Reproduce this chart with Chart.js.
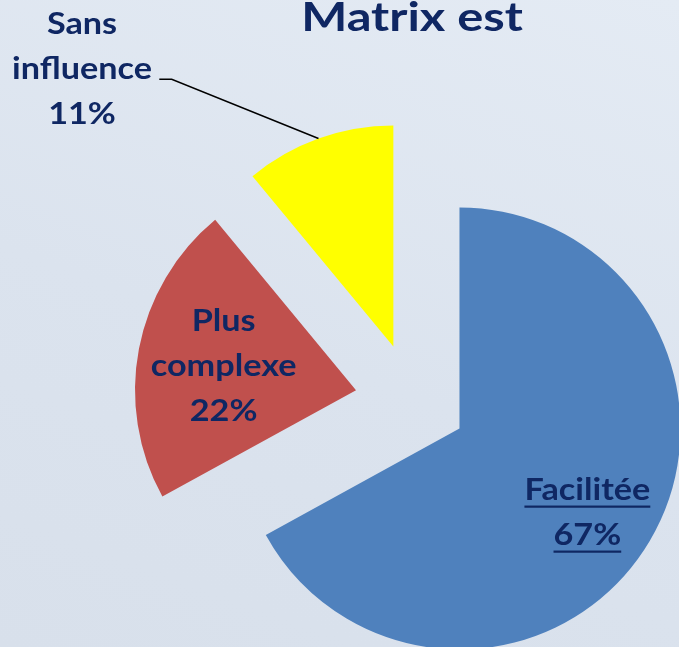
<!DOCTYPE html>
<html>
<head>
<meta charset="utf-8">
<title>Matrix est</title>
<script src="https://cdn.jsdelivr.net/npm/chart.js@4.4.1/dist/chart.umd.min.js"></script>
<style>
  html, body { margin: 0; padding: 0; }
  body {
    width: 679px;
    height: 647px;
    overflow: hidden;
    background: linear-gradient(200deg, #e4ebf4 0%, #dbe3ee 55%, #d8e0eb 100%);
  }
  #wrap { position: relative; width: 679px; height: 647px; }
  #wrap canvas { position: absolute; left: 0; top: 0; }
</style>
</head>
<body>
<div id="wrap">
  <canvas id="part0" width="679" height="647"></canvas>
  <canvas id="part1" width="679" height="647"></canvas>
  <canvas id="part2" width="679" height="647"></canvas>
</div>
<script>
// donnees du graphique
const titre = "Matrix est";
const categories = ["Facilitée", "Plus complexe", "Sans influence"];
const valeurs = [67, 22, 11];

// style
const couleurs = ["#4f81bd", "#c0504d", "#ffff00"];
const encre = "#0f2763";
const W = 679, H = 647;
const centre = { x: 413, y: 401 };
const rayon = 221;
const eclate = [54, 58, 58];          // decalage de chaque part (px)
const police = "Lato, 'Open Sans', sans-serif";
const interligne = 45;

// placement des etiquettes : dans la part (r = fraction du rayon) ou dehors avec un trait
const placement = [
    { r: 0.69, tourne: 2.4, souligne: true },
    { r: 0.61, tourne: 0 },
    { dehors: { x: 82, y: 67.5 }, coude: { x: 171.7, y: 79.3 }, fin: { x: 159.3, y: 79.3 } }
];

const total = valeurs.reduce((a, b) => a + b, 0);

function lignesEtiquette(i) {
    const pct = Math.round(valeurs[i] / total * 100) + "%";
    return categories[i].split(" ").concat([pct]);
}

// texte un peu elargi, comme dans l'original
function texte(ctx, l, x, y, taille, etire, souligne) {
    ctx.save();
    ctx.font = "bold " + taille + "px " + police;
    ctx.fillStyle = encre;
    ctx.textAlign = "center";
    ctx.textBaseline = "alphabetic";
    ctx.translate(x, y);
    ctx.scale(etire, 1);
    ctx.fillText(l, 0, 0);
    if (souligne) {
        const w = ctx.measureText(l).width;
        ctx.fillRect(-w / 2, 5.5, w, 2.2);
    }
    ctx.restore();
}

function ecrireBloc(ctx, lignes, cx, cy, souligne) {
    lignes.forEach((l, k) => {
        const by = cy + (k - (lignes.length - 1) / 2) * interligne + 11;
        texte(ctx, l, cx, by, 30, 1.14, souligne);
    });
}

const etiquettePlugin = {
    id: "etiquette",
    afterDatasetsDraw(chart, args, opts) {
        const i = opts.index;
        const ctx = chart.ctx;
        const arc = chart.getDatasetMeta(0).data[i];
        const p = arc.getProps(["x", "y", "startAngle", "endAngle", "outerRadius"], true);
        const milieu = (p.startAngle + p.endAngle) / 2;
        const pl = placement[i];

        ctx.save();
        if (pl.dehors) {
            // trait de rappel depuis le bord de la part
            ctx.strokeStyle = "#000";
            ctx.lineWidth = 1.5;
            ctx.beginPath();
            ctx.moveTo(p.x + Math.cos(milieu) * p.outerRadius, p.y + Math.sin(milieu) * p.outerRadius);
            ctx.lineTo(pl.coude.x, pl.coude.y);
            ctx.lineTo(pl.fin.x, pl.fin.y);
            ctx.stroke();
            ecrireBloc(ctx, lignesEtiquette(i), pl.dehors.x, pl.dehors.y, false);
        } else {
            const a = milieu + pl.tourne * Math.PI / 180;
            const d = pl.r * p.outerRadius;
            ecrireBloc(ctx, lignesEtiquette(i), p.x + Math.cos(a) * d, p.y + Math.sin(a) * d, pl.souligne);
        }

        if (opts.titre) {
            texte(ctx, titre, 412, 31, 41, 1.19, false);
        }
        ctx.restore();
    }
};

// une part par canvas, pour pouvoir l'ecarter du centre
let cumul = 0;
valeurs.forEach((v, i) => {
    const milieu = -Math.PI / 2 + 2 * Math.PI * (cumul + v / 2) / total;
    cumul += v;
    const cx = centre.x + Math.cos(milieu) * eclate[i];
    const cy = centre.y + Math.sin(milieu) * eclate[i];

    const fonds = couleurs.map((c, k) => k === i ? c : "rgba(0,0,0,0)");

    new Chart(document.getElementById("part" + i), {
        type: "pie",
        data: {
            labels: categories,
            datasets: [{
                data: valeurs,
                backgroundColor: fonds,
                borderWidth: 0,
                radius: rayon
            }]
        },
        options: {
            responsive: false,
            animation: false,
            events: [],
            layout: {
                padding: {
                    left: Math.max(0, 2 * cx - W),
                    right: Math.max(0, W - 2 * cx),
                    top: Math.max(0, 2 * cy - H),
                    bottom: Math.max(0, H - 2 * cy)
                }
            },
            plugins: {
                legend: { display: false },
                tooltip: { enabled: false },
                etiquette: { index: i, titre: i === 0 }
            }
        },
        plugins: [etiquettePlugin]
    });
});
</script>
</body>
</html>
